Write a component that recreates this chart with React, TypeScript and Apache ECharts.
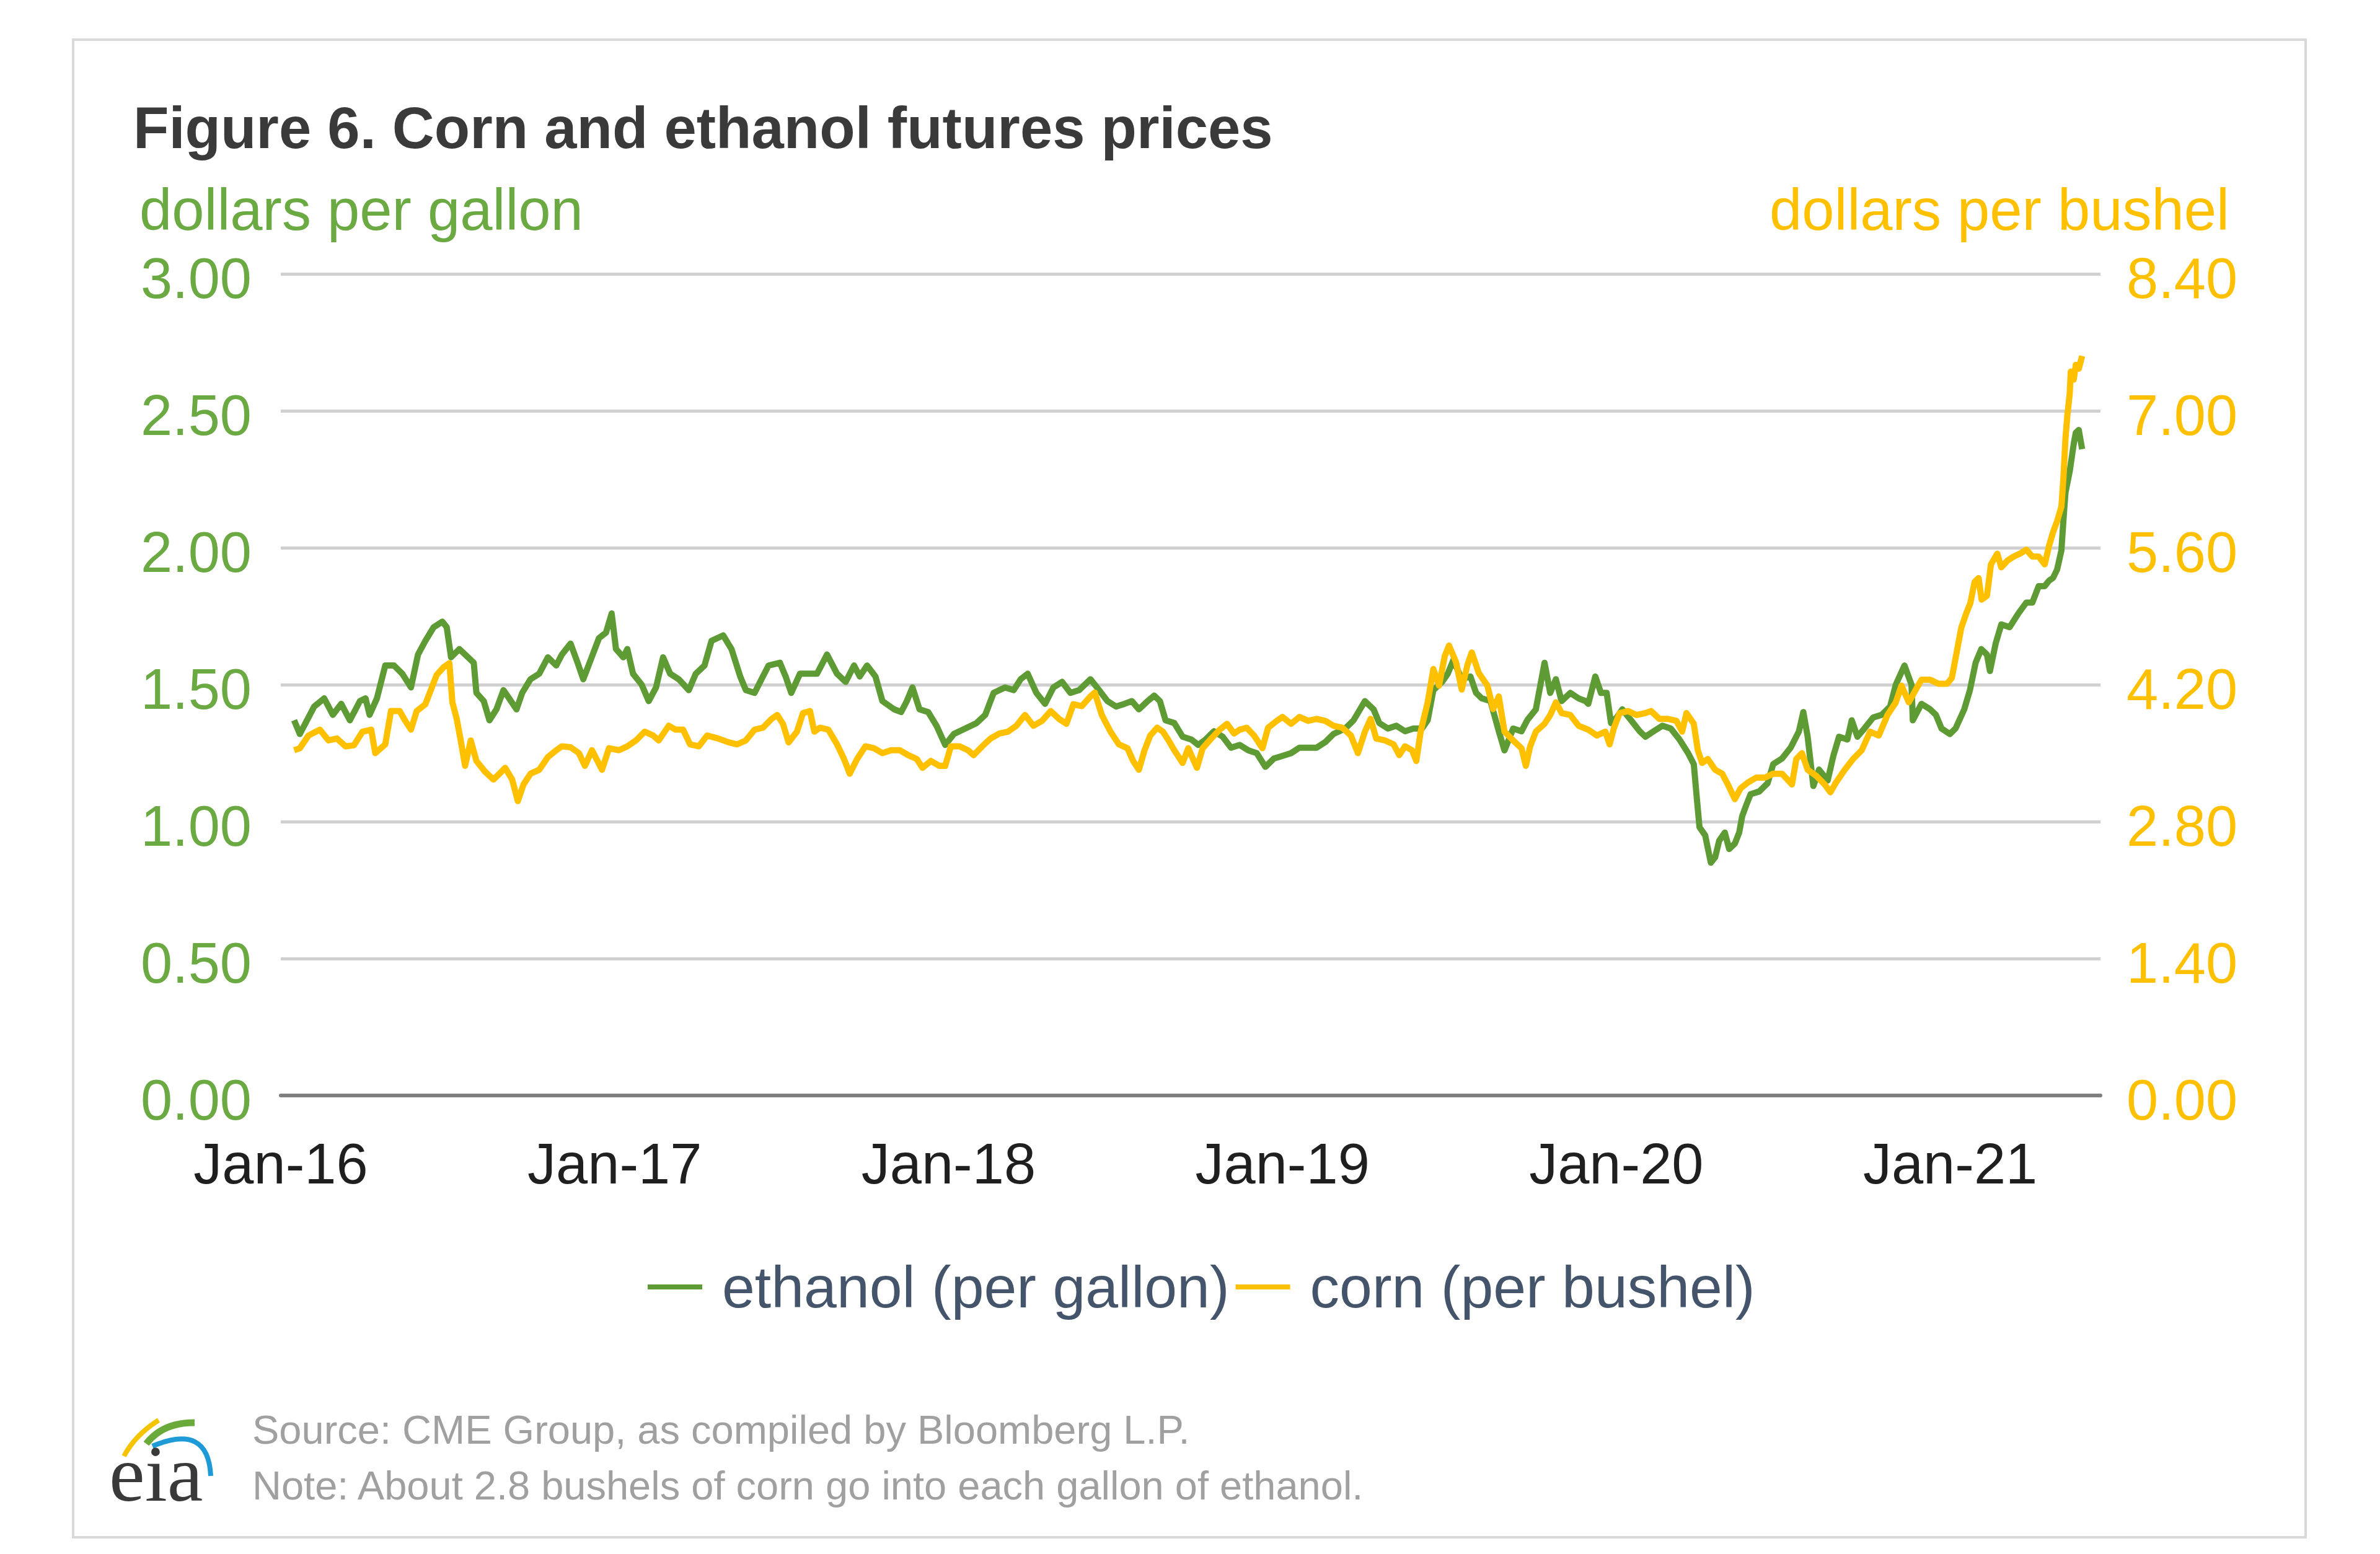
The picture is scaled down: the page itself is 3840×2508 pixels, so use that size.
import React, { useEffect, useRef } from 'react';
import * as echarts from 'echarts';

const FONT = "'Liberation Sans', Arial, Helvetica, sans-serif";

const TITLE = 'Figure 6. Corn and ethanol futures prices';
const LEFT_UNIT = 'dollars per gallon';
const RIGHT_UNIT = 'dollars per bushel';
const SOURCE = 'Source: CME Group, as compiled by Bloomberg L.P.';
const NOTE = 'Note: About 2.8 bushels of corn go into each gallon of ethanol.';
const SERIES_NAMES = ['ethanol (per gallon)', 'corn (per bushel)'];

const X_TICK_YEARS = [2016, 2017, 2018, 2019, 2020, 2021];
const X_TICK_LABELS = ['Jan-16', 'Jan-17', 'Jan-18', 'Jan-19', 'Jan-20', 'Jan-21'];
const X_MIN = 2016;
const X_MAX = 2021.45;

const LEFT_MIN = 0;
const LEFT_MAX = 3;
const LEFT_STEP = 0.5;
const RIGHT_MIN = 0;
const RIGHT_MAX = 8.4;
const RIGHT_STEP = 1.4;

// [decimal year, dollars per gallon]
const ethanol: [number, number][] = [
  [2016.040, 1.37], [2016.057, 1.32], [2016.100, 1.42], [2016.130, 1.45], [2016.156, 1.39], [2016.181, 1.43],
  [2016.207, 1.37], [2016.237, 1.44], [2016.254, 1.45], [2016.266, 1.39], [2016.288, 1.45], [2016.313, 1.57],
  [2016.339, 1.57], [2016.364, 1.54], [2016.390, 1.49], [2016.411, 1.61], [2016.433, 1.66], [2016.458, 1.71],
  [2016.484, 1.73], [2016.497, 1.71], [2016.510, 1.60], [2016.535, 1.63], [2016.561, 1.60], [2016.578, 1.58],
  [2016.586, 1.47], [2016.608, 1.44], [2016.625, 1.37], [2016.646, 1.41], [2016.667, 1.48], [2016.684, 1.45],
  [2016.706, 1.41], [2016.723, 1.47], [2016.748, 1.52], [2016.774, 1.54], [2016.800, 1.60], [2016.825, 1.57],
  [2016.842, 1.61], [2016.868, 1.65], [2016.889, 1.58], [2016.906, 1.52], [2016.928, 1.59], [2016.953, 1.67],
  [2016.974, 1.69], [2016.991, 1.76], [2017.004, 1.63], [2017.026, 1.60], [2017.038, 1.63], [2017.055, 1.54],
  [2017.081, 1.50], [2017.102, 1.44], [2017.124, 1.49], [2017.145, 1.60], [2017.166, 1.54], [2017.192, 1.52],
  [2017.222, 1.48], [2017.243, 1.54], [2017.269, 1.57], [2017.290, 1.66], [2017.325, 1.68], [2017.350, 1.63],
  [2017.376, 1.53], [2017.393, 1.48], [2017.419, 1.47], [2017.444, 1.53], [2017.461, 1.57], [2017.495, 1.58],
  [2017.512, 1.53], [2017.529, 1.47], [2017.555, 1.54], [2017.581, 1.54], [2017.606, 1.54], [2017.636, 1.61],
  [2017.666, 1.54], [2017.692, 1.51], [2017.717, 1.57], [2017.734, 1.53], [2017.756, 1.57], [2017.781, 1.53],
  [2017.802, 1.44], [2017.837, 1.41], [2017.858, 1.40], [2017.875, 1.44], [2017.892, 1.49], [2017.913, 1.41],
  [2017.939, 1.40], [2017.964, 1.35], [2017.990, 1.28], [2018.016, 1.32], [2018.050, 1.34], [2018.084, 1.36],
  [2018.110, 1.39], [2018.135, 1.47], [2018.169, 1.49], [2018.195, 1.48], [2018.216, 1.52], [2018.237, 1.54],
  [2018.263, 1.47], [2018.289, 1.43], [2018.314, 1.49], [2018.340, 1.51], [2018.365, 1.47], [2018.391, 1.48],
  [2018.425, 1.52], [2018.451, 1.48], [2018.476, 1.44], [2018.502, 1.42], [2018.527, 1.43], [2018.549, 1.44],
  [2018.570, 1.41], [2018.596, 1.44], [2018.616, 1.46], [2018.633, 1.44], [2018.650, 1.37], [2018.676, 1.36],
  [2018.701, 1.31], [2018.727, 1.30], [2018.748, 1.28], [2018.770, 1.30], [2018.795, 1.33], [2018.821, 1.31],
  [2018.846, 1.27], [2018.872, 1.28], [2018.898, 1.26], [2018.923, 1.25], [2018.949, 1.20], [2018.974, 1.23],
  [2019.000, 1.24], [2019.026, 1.25], [2019.051, 1.27], [2019.077, 1.27], [2019.102, 1.27], [2019.128, 1.29],
  [2019.153, 1.32], [2019.188, 1.34], [2019.213, 1.37], [2019.247, 1.44], [2019.273, 1.41], [2019.290, 1.36],
  [2019.316, 1.34], [2019.341, 1.35], [2019.367, 1.33], [2019.392, 1.34], [2019.418, 1.34], [2019.435, 1.37],
  [2019.452, 1.48], [2019.478, 1.51], [2019.495, 1.54], [2019.512, 1.59], [2019.537, 1.52], [2019.563, 1.53],
  [2019.580, 1.47], [2019.597, 1.45], [2019.623, 1.44], [2019.648, 1.33], [2019.665, 1.26], [2019.691, 1.34],
  [2019.716, 1.33], [2019.733, 1.37], [2019.759, 1.41], [2019.785, 1.58], [2019.802, 1.47], [2019.819, 1.52],
  [2019.836, 1.44], [2019.862, 1.47], [2019.887, 1.45], [2019.908, 1.44], [2019.916, 1.43], [2019.937, 1.53],
  [2019.954, 1.47], [2019.971, 1.47], [2019.984, 1.36], [2020.001, 1.38], [2020.018, 1.41], [2020.044, 1.37],
  [2020.070, 1.33], [2020.087, 1.31], [2020.112, 1.33], [2020.138, 1.35], [2020.163, 1.34], [2020.189, 1.30],
  [2020.215, 1.25], [2020.232, 1.21], [2020.240, 1.10], [2020.249, 0.98], [2020.266, 0.95], [2020.283, 0.85],
  [2020.296, 0.87], [2020.308, 0.93], [2020.325, 0.96], [2020.338, 0.90], [2020.355, 0.92], [2020.368, 0.96],
  [2020.377, 1.02], [2020.389, 1.06], [2020.402, 1.10], [2020.428, 1.11], [2020.453, 1.14], [2020.470, 1.21],
  [2020.496, 1.23], [2020.522, 1.27], [2020.547, 1.33], [2020.560, 1.40], [2020.573, 1.31], [2020.590, 1.13],
  [2020.607, 1.19], [2020.633, 1.15], [2020.650, 1.24], [2020.667, 1.31], [2020.692, 1.30], [2020.705, 1.37],
  [2020.722, 1.31], [2020.743, 1.34], [2020.769, 1.38], [2020.795, 1.39], [2020.820, 1.42], [2020.837, 1.50],
  [2020.863, 1.57], [2020.884, 1.50], [2020.888, 1.37], [2020.914, 1.43], [2020.940, 1.41], [2020.957, 1.39],
  [2020.974, 1.34], [2020.999, 1.32], [2021.016, 1.34], [2021.042, 1.41], [2021.059, 1.48], [2021.076, 1.58],
  [2021.093, 1.63], [2021.110, 1.61], [2021.119, 1.55], [2021.136, 1.65], [2021.153, 1.72], [2021.178, 1.71],
  [2021.204, 1.76], [2021.228, 1.80], [2021.246, 1.80], [2021.265, 1.86], [2021.283, 1.86], [2021.296, 1.88],
  [2021.308, 1.89], [2021.320, 1.92], [2021.333, 1.99], [2021.339, 2.10], [2021.345, 2.20], [2021.358, 2.28],
  [2021.364, 2.33], [2021.370, 2.38], [2021.376, 2.42], [2021.385, 2.43], [2021.395, 2.36],
];

// [decimal year, dollars per bushel]
const corn: [number, number][] = [
  [2016.040, 3.53], [2016.057, 3.55], [2016.083, 3.68], [2016.117, 3.74], [2016.143, 3.63], [2016.168, 3.65],
  [2016.194, 3.57], [2016.219, 3.58], [2016.245, 3.72], [2016.271, 3.74], [2016.283, 3.50], [2016.313, 3.59],
  [2016.330, 3.93], [2016.356, 3.93], [2016.373, 3.83], [2016.390, 3.74], [2016.407, 3.93], [2016.433, 4.00],
  [2016.450, 4.15], [2016.467, 4.30], [2016.488, 4.38], [2016.505, 4.42], [2016.514, 4.02], [2016.527, 3.85],
  [2016.539, 3.63], [2016.552, 3.37], [2016.569, 3.63], [2016.586, 3.42], [2016.612, 3.31], [2016.637, 3.23],
  [2016.655, 3.29], [2016.672, 3.35], [2016.693, 3.23], [2016.710, 3.01], [2016.727, 3.18], [2016.748, 3.29],
  [2016.774, 3.33], [2016.800, 3.46], [2016.825, 3.53], [2016.842, 3.57], [2016.868, 3.56], [2016.893, 3.50],
  [2016.911, 3.37], [2016.932, 3.53], [2016.962, 3.33], [2016.983, 3.55], [2017.013, 3.53], [2017.038, 3.57],
  [2017.064, 3.63], [2017.090, 3.72], [2017.115, 3.68], [2017.132, 3.63], [2017.162, 3.78], [2017.183, 3.74],
  [2017.205, 3.74], [2017.226, 3.59], [2017.252, 3.57], [2017.277, 3.68], [2017.310, 3.65], [2017.342, 3.61],
  [2017.367, 3.59], [2017.393, 3.63], [2017.419, 3.74], [2017.444, 3.76], [2017.470, 3.85], [2017.487, 3.89],
  [2017.504, 3.80], [2017.521, 3.61], [2017.546, 3.72], [2017.564, 3.91], [2017.585, 3.93], [2017.598, 3.72],
  [2017.615, 3.76], [2017.640, 3.74], [2017.666, 3.59], [2017.687, 3.44], [2017.704, 3.29], [2017.726, 3.44],
  [2017.751, 3.57], [2017.777, 3.55], [2017.802, 3.50], [2017.828, 3.53], [2017.854, 3.53], [2017.879, 3.48],
  [2017.905, 3.44], [2017.922, 3.35], [2017.947, 3.42], [2017.973, 3.37], [2017.990, 3.37], [2018.007, 3.57],
  [2018.033, 3.57], [2018.058, 3.53], [2018.075, 3.48], [2018.101, 3.57], [2018.126, 3.65], [2018.152, 3.70],
  [2018.178, 3.72], [2018.203, 3.78], [2018.229, 3.89], [2018.254, 3.78], [2018.280, 3.83], [2018.306, 3.93],
  [2018.331, 3.85], [2018.353, 3.80], [2018.374, 4.00], [2018.399, 3.98], [2018.425, 4.08], [2018.438, 4.12],
  [2018.459, 3.89], [2018.485, 3.72], [2018.510, 3.59], [2018.536, 3.55], [2018.553, 3.42], [2018.570, 3.33],
  [2018.587, 3.53], [2018.604, 3.68], [2018.625, 3.76], [2018.642, 3.72], [2018.659, 3.63], [2018.676, 3.53],
  [2018.701, 3.40], [2018.718, 3.55], [2018.744, 3.35], [2018.761, 3.55], [2018.787, 3.65], [2018.812, 3.74],
  [2018.834, 3.80], [2018.855, 3.70], [2018.872, 3.74], [2018.893, 3.76], [2018.915, 3.68], [2018.940, 3.55],
  [2018.957, 3.76], [2018.983, 3.83], [2019.000, 3.87], [2019.026, 3.80], [2019.051, 3.87], [2019.077, 3.83],
  [2019.102, 3.85], [2019.128, 3.83], [2019.153, 3.78], [2019.179, 3.76], [2019.205, 3.68], [2019.226, 3.50],
  [2019.247, 3.72], [2019.264, 3.85], [2019.281, 3.65], [2019.307, 3.63], [2019.333, 3.59], [2019.350, 3.48],
  [2019.367, 3.57], [2019.388, 3.53], [2019.401, 3.42], [2019.414, 3.72], [2019.435, 4.02], [2019.452, 4.36],
  [2019.469, 4.19], [2019.486, 4.49], [2019.499, 4.60], [2019.520, 4.43], [2019.537, 4.15], [2019.554, 4.40],
  [2019.567, 4.53], [2019.588, 4.32], [2019.614, 4.19], [2019.631, 3.95], [2019.648, 4.08], [2019.665, 3.72],
  [2019.691, 3.63], [2019.716, 3.55], [2019.729, 3.37], [2019.742, 3.57], [2019.759, 3.72], [2019.785, 3.80],
  [2019.802, 3.89], [2019.819, 4.02], [2019.836, 3.91], [2019.862, 3.89], [2019.887, 3.78], [2019.916, 3.74],
  [2019.942, 3.68], [2019.967, 3.72], [2019.980, 3.59], [2019.993, 3.76], [2020.010, 3.91], [2020.035, 3.93],
  [2020.061, 3.89], [2020.087, 3.91], [2020.104, 3.93], [2020.129, 3.85], [2020.155, 3.85], [2020.180, 3.83],
  [2020.197, 3.72], [2020.210, 3.91], [2020.232, 3.80], [2020.244, 3.53], [2020.257, 3.40], [2020.274, 3.44],
  [2020.296, 3.33], [2020.317, 3.29], [2020.334, 3.18], [2020.355, 3.03], [2020.372, 3.14], [2020.394, 3.20],
  [2020.419, 3.25], [2020.445, 3.25], [2020.470, 3.29], [2020.496, 3.29], [2020.526, 3.18], [2020.539, 3.44],
  [2020.556, 3.50], [2020.573, 3.33], [2020.598, 3.27], [2020.624, 3.18], [2020.641, 3.10], [2020.658, 3.20],
  [2020.684, 3.33], [2020.709, 3.44], [2020.735, 3.53], [2020.760, 3.72], [2020.786, 3.68], [2020.812, 3.89],
  [2020.837, 4.02], [2020.854, 4.19], [2020.876, 4.02], [2020.897, 4.15], [2020.914, 4.25], [2020.940, 4.25],
  [2020.965, 4.21], [2020.991, 4.21], [2021.005, 4.27], [2021.017, 4.49], [2021.033, 4.78], [2021.048, 4.93],
  [2021.060, 5.03], [2021.073, 5.25], [2021.085, 5.29], [2021.094, 5.07], [2021.110, 5.11], [2021.122, 5.43],
  [2021.141, 5.54], [2021.153, 5.40], [2021.172, 5.47], [2021.190, 5.51], [2021.209, 5.54], [2021.228, 5.58],
  [2021.246, 5.51], [2021.265, 5.51], [2021.283, 5.43], [2021.296, 5.62], [2021.308, 5.76], [2021.320, 5.87],
  [2021.333, 6.02], [2021.339, 6.31], [2021.345, 6.71], [2021.351, 6.96], [2021.358, 7.18], [2021.361, 7.40],
  [2021.370, 7.32], [2021.376, 7.47], [2021.385, 7.43], [2021.395, 7.56],
];

const GREEN_LINE = '#5e9b35';
const GREEN_TEXT = '#6ba943';
const YELLOW = '#ffc000';

export default function App() {
  const ref = useRef<HTMLDivElement>(null);

  useEffect(() => {
    if (!ref.current) return;
    const chart = echarts.init(ref.current, undefined, { renderer: 'svg' });

    const xLabel = (v: number) => {
      const r = Math.round(v);
      if (Math.abs(v - r) > 1e-6) return '';
      const i = X_TICK_YEARS.indexOf(r);
      return i >= 0 ? X_TICK_LABELS[i] : '';
    };

    const option: any = {
      animation: false,
      backgroundColor: '#ffffff',
      grid: { left: 453, right: 451, top: 442, bottom: 740, containLabel: false },
      xAxis: {
        type: 'value',
        min: X_MIN,
        max: X_MAX,
        interval: 1,
        splitLine: { show: false },
        axisTick: { show: false },
        axisLine: { show: true, onZero: false, lineStyle: { color: '#7f7f7f', width: 6 } },
        axisLabel: {
          formatter: xLabel,
          color: '#1f1f1f',
          fontSize: 92,
          fontFamily: FONT,
          margin: 64,
          lineHeight: 92,
          showMaxLabel: false,
        },
      },
      yAxis: [
        {
          type: 'value',
          min: LEFT_MIN,
          max: LEFT_MAX,
          interval: LEFT_STEP,
          axisLine: { show: false },
          axisTick: { show: false },
          splitLine: { show: true, lineStyle: { color: '#d0d0d0', width: 5 } },
          axisLabel: {
            formatter: (v: number) => v.toFixed(2),
            color: GREEN_TEXT,
            fontSize: 92,
            fontFamily: FONT,
            margin: 47,
            verticalAlign: 'top',
            lineHeight: 14,
          },
        },
        {
          type: 'value',
          min: RIGHT_MIN,
          max: RIGHT_MAX,
          interval: RIGHT_STEP,
          position: 'right',
          axisLine: { show: false },
          axisTick: { show: false },
          splitLine: { show: false },
          axisLabel: {
            formatter: (v: number) => v.toFixed(2),
            color: YELLOW,
            fontSize: 92,
            fontFamily: FONT,
            margin: 42,
            verticalAlign: 'top',
            lineHeight: 14,
          },
        },
      ],
      legend: {
        left: 1040,
        top: 2022,
        icon: 'rect',
        itemWidth: 88,
        itemHeight: 8,
        itemGap: 10,
        selectedMode: false,
        textStyle: {
          fontSize: 95,
          color: '#44546a',
          fontFamily: FONT,
          lineHeight: 100,
          padding: [0, 0, 0, 27],
        },
        data: SERIES_NAMES,
      },
      series: [
        {
          name: SERIES_NAMES[0],
          type: 'line',
          yAxisIndex: 0,
          data: ethanol,
          showSymbol: false,
          symbol: 'none',
          lineStyle: { color: GREEN_LINE, width: 10, join: 'round' },
          itemStyle: { color: GREEN_LINE },
          z: 3,
        },
        {
          name: SERIES_NAMES[1],
          type: 'line',
          yAxisIndex: 1,
          data: corn,
          showSymbol: false,
          symbol: 'none',
          lineStyle: { color: YELLOW, width: 10, join: 'round' },
          itemStyle: { color: YELLOW },
          z: 4,
        },
      ],
      graphic: [
        {
          type: 'rect',
          z: -10,
          shape: { x: 118, y: 64, width: 3602, height: 2417 },
          style: { fill: 'none', stroke: '#d9d9d9', lineWidth: 4 },
        },
        {
          type: 'text',
          x: 215,
          y: 206,
          style: {
            text: TITLE,
            fontSize: 94,
            fontWeight: 'bold',
            fontFamily: FONT,
            fill: '#3a3a3a',
            align: 'left',
            verticalAlign: 'middle',
          },
        },
        {
          type: 'text',
          x: 225,
          y: 338,
          style: {
            text: LEFT_UNIT,
            fontSize: 94,
            fontFamily: FONT,
            fill: GREEN_TEXT,
            align: 'left',
            verticalAlign: 'middle',
          },
        },
        {
          type: 'text',
          x: 3597,
          y: 338,
          style: {
            text: RIGHT_UNIT,
            fontSize: 94,
            fontFamily: FONT,
            fill: YELLOW,
            align: 'right',
            verticalAlign: 'middle',
          },
        },
        {
          type: 'text',
          x: 407,
          y: 2307,
          style: {
            text: SOURCE,
            fontSize: 65,
            fontFamily: FONT,
            fill: '#a0a0a0',
            align: 'left',
            verticalAlign: 'middle',
          },
        },
        {
          type: 'text',
          x: 407,
          y: 2397,
          style: {
            text: NOTE,
            fontSize: 65,
            fontFamily: FONT,
            fill: '#a0a0a0',
            align: 'left',
            verticalAlign: 'middle',
          },
        },
        {
          type: 'bezierCurve',
          shape: { x1: 200, y1: 2350, cpx1: 218, cpy1: 2316, x2: 256, y2: 2292 },
          style: { stroke: '#f5c400', lineWidth: 8, fill: 'none' },
        },
        {
          type: 'bezierCurve',
          shape: { x1: 236, y1: 2330, cpx1: 262, cpy1: 2296, x2: 314, y2: 2296 },
          style: { stroke: '#6aaa3a', lineWidth: 11, fill: 'none' },
        },
        {
          type: 'bezierCurve',
          shape: { x1: 246, y1: 2334, cpx1: 336, cpy1: 2296, x2: 340, y2: 2382 },
          style: { stroke: '#1e9bd7', lineWidth: 8, fill: 'none' },
        },
        {
          type: 'text',
          x: 176,
          y: 2378,
          style: {
            text: 'eia',
            fontSize: 130,
            fontFamily: "'Liberation Serif', 'DejaVu Serif', serif",
            fill: '#3a3a3a',
            align: 'left',
            verticalAlign: 'middle',
          },
        },
      ],
    };

    chart.setOption(option);
    return () => chart.dispose();
  }, []);

  return (
    <div
      ref={ref}
      style={{ position: 'absolute', left: 0, top: 0, width: 3840, height: 2508, background: '#ffffff' }}
    />
  );
}
